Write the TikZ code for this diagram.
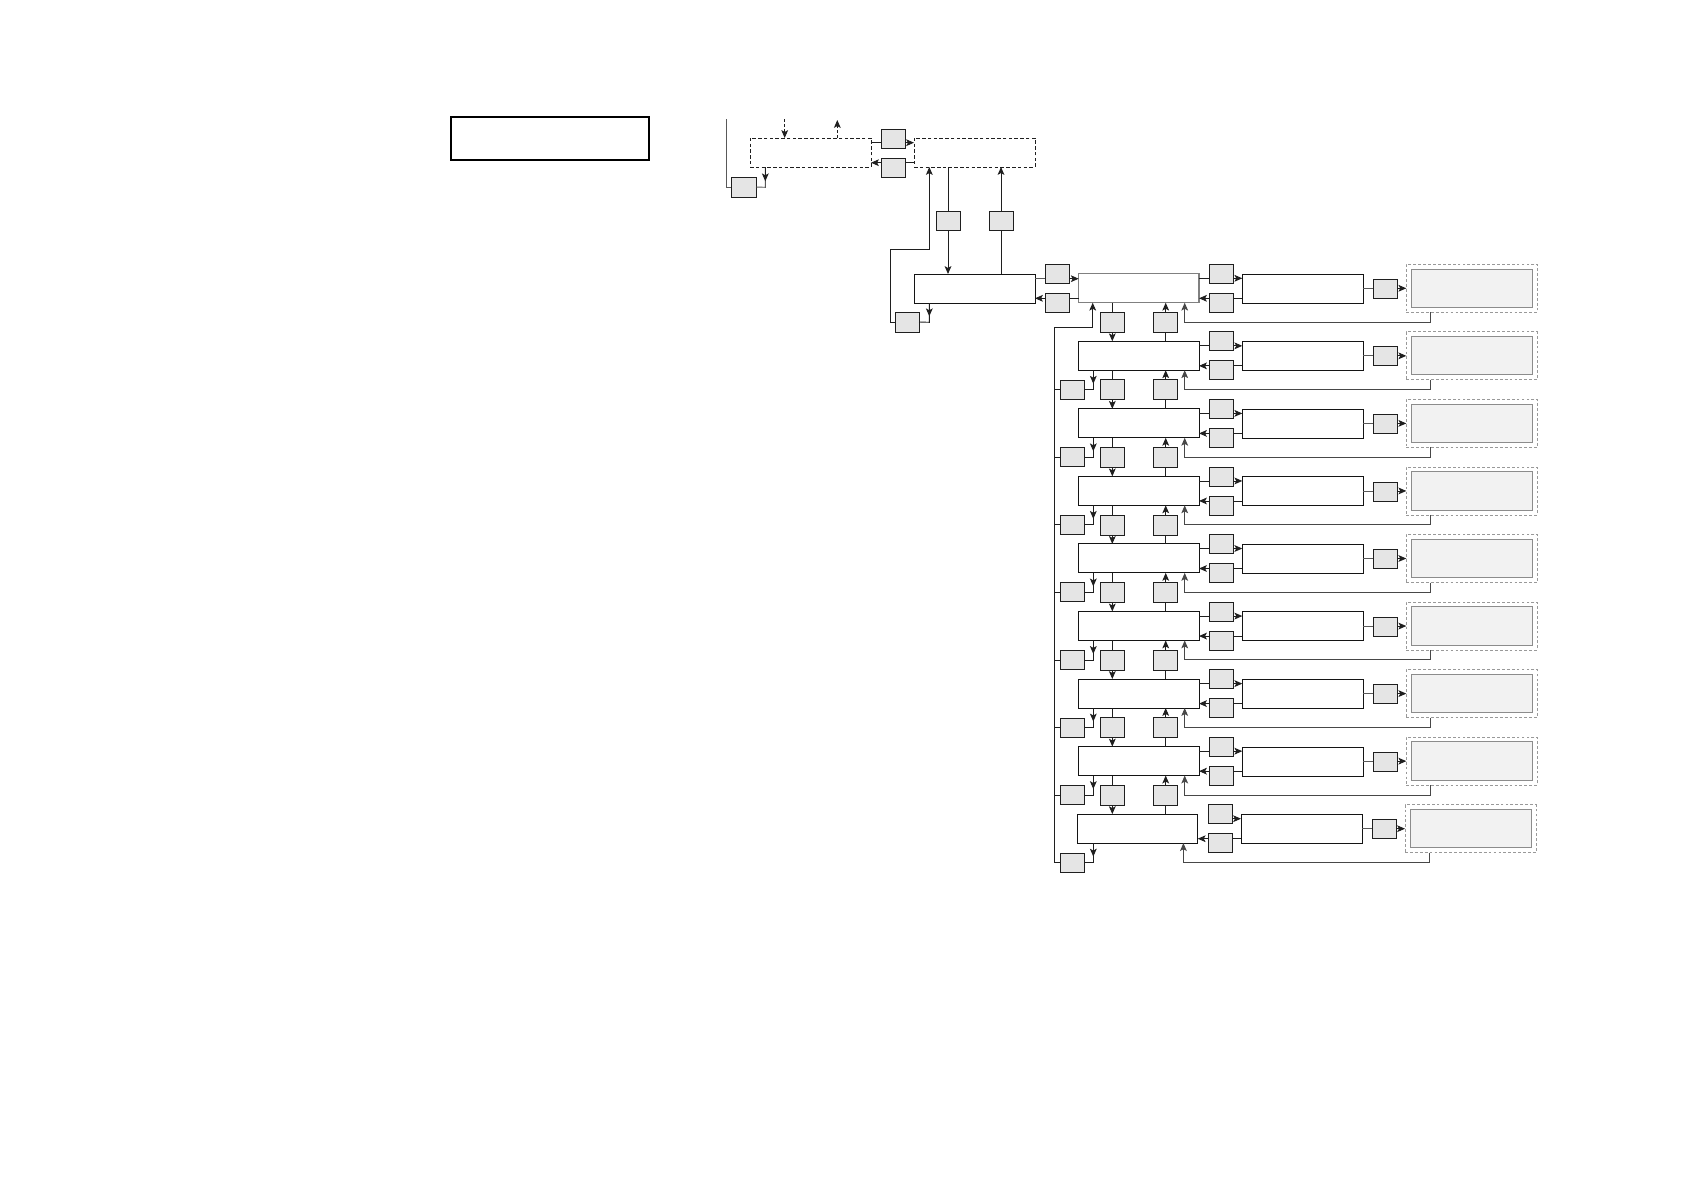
\documentclass[tikz,border=0pt]{standalone}
\usetikzlibrary{arrows.meta,calc}
\tikzset{
 ln/.style={line width=0.65pt, draw=black!88},
 gl/.style={line width=0.65pt, draw=black!65},
 arr/.style={line width=0.65pt, draw=black!88, -{Stealth[length=5.6pt,width=4.8pt,inset=1.3pt]}},
 garr/.style={line width=0.65pt, draw=black!72, -{Stealth[length=5.6pt,width=4.8pt,inset=1.3pt]}},
 sbox/.style={draw=black!88, line width=0.65pt, fill=black!10, inner sep=0pt, outer sep=0pt},
 mbox/.style={draw=black!92, line width=0.7pt, fill=white, inner sep=0pt, outer sep=0pt},
 gbox/.style={draw=black!50, line width=0.9pt, fill=white, inner sep=0pt, outer sep=0pt},
 dbox/.style={draw=black!88, dash pattern=on 2.5pt off 1.6pt, line width=0.65pt, inner sep=0pt, outer sep=0pt},
 ubox/.style={draw=black!40, dash pattern=on 2pt off 1.5pt, line width=0.6pt, inner sep=0pt, outer sep=0pt},
 vbox/.style={draw=black!45, fill=black!5, line width=0.65pt, inner sep=0pt, outer sep=0pt},
 tbox/.style={draw=black, line width=1.2pt, inner sep=0pt, outer sep=0pt},
}
\newcommand{\bx}[6]{\node[#6, minimum width={((#4)-(#2))*0.25mm}, minimum height={((#5)-(#3))*0.25mm}] (#1) at ({((#2)+(#4))/2},{((#3)+(#5))/2}) {};}
\begin{document}
\begin{tikzpicture}[x=0.25mm,y=-0.25mm]
\fill[white] (0,0) rectangle (1684,1190);
\useasboundingbox (0,0) rectangle (1684,1190);

% title box
\bx{title}{451}{117}{649}{160}{tbox}

% top region
\bx{A}{731}{177}{756}{197}{sbox}
\bx{D1}{750}{138}{871}{167}{dbox}
\bx{D2}{914}{138}{1035}{167}{dbox}
\bx{B1}{881}{129}{905}{148}{sbox}
\bx{B2}{881}{158}{905}{177}{sbox}
\coordinate (tl) at (726.7,119);
\draw[gl] (tl) |- (A.west);
\coordinate (a1) at (765.3,187.3);
\draw[gl] (D1.south -| a1) -- (a1) -- (A.east);
\draw[arr] (D1.south -| a1) -- ($(a1)+(0,-6)$);
\coordinate (dd) at (784.7,119);
\draw[arr, dash pattern=on 2pt off 1.5pt] (dd) -- (dd |- D1.north);
\coordinate (du) at (837.3,120);
\draw[arr, dash pattern=on 2pt off 1.5pt] (du |- D1.north) -- (du);
\coordinate (yb1) at (0,142.7);
\coordinate (yb2) at (0,162.7);
\draw[ln] (D1.east |- yb1) -- (B1.west |- yb1);
\draw[arr] (B1.east |- yb1) -- (D2.west |- yb1);
\draw[ln] (D2.west |- yb2) -- (B2.east |- yb2);
\draw[arr] (B2.west |- yb2) -- (D1.east |- yb2);

% middle
\bx{C1}{936}{211}{960}{230}{sbox}
\bx{C2}{989}{211}{1013}{230}{sbox}
\bx{M}{914}{274}{1035}{303}{mbox}
\bx{E}{895}{312}{919}{332}{sbox}
\bx{F1}{1045}{264.3}{1069}{283.3}{sbox}
\bx{F2}{1045}{293.3}{1069}{312.3}{sbox}
\draw[ln] (D2.south -| C1) -- (C1.north);
\draw[arr] (C1.south) -- (M.north -| C1);
\draw[ln] (M.north -| C2) -- (C2.south);
\draw[arr] (C2.north) -- (D2.south -| C2);
\coordinate (e1) at (890.3,249);
\coordinate (e2) at (929.3,249);
\draw[arr] (E.west) -| (e1) -- (e2) -- (e2 |- D2.south);
\coordinate (e3) at (929.3,322.3);
\draw[ln] (M.south -| e3) -- (e3) -- (E.east);
\draw[arr] (M.south -| e3) -- ($(e3)+(0,-6)$);

% rows
\foreach \r in {1,...,9}{
 \pgfmathsetmacro\t{273.7+(\r-1)*67.55}
 \pgfmathsetmacro\d{(\r==9)?-1.3:0}
 \ifnum\r=1
   \bx{R\r}{1078.7+\d}{\t}{1199+\d}{\t+29}{gbox}
 \else
   \bx{R\r}{1078.7+\d}{\t}{1199+\d}{\t+29}{mbox}
 \fi
 \bx{Ga\r}{1209.3+\d}{\t-9.4}{1233.3+\d}{\t+9.6}{sbox}
 \bx{Gb\r}{1209.3+\d}{\t+19.6}{1233.3+\d}{\t+38.6}{sbox}
 \bx{S\r}{1242.3+\d}{\t+0.5}{1363.3+\d}{\t+29.5}{mbox}
 \bx{T\r}{1373.3+\d}{\t+5.6}{1397.3+\d}{\t+24.6}{sbox}
 \bx{U\r}{1406.3+\d}{\t-9.4}{1537.3+\d}{\t+38.6}{ubox}
 \bx{V\r}{1411.3+\d}{\t-4.7}{1532.7+\d}{\t+33.6}{vbox}
 \coordinate (ya) at (0,\t+4.6);
 \coordinate (yb) at (0,\t+24.6);
 \coordinate (yt) at (0,\t+14.6);
 \ifnum\r<9
   \draw[ln] (R\r.east |- ya) -- (Ga\r.west |- ya);
   \bx{Ha\r}{1100.3}{\t+38.6}{1124.3}{\t+58.6}{sbox}
   \bx{Hb\r}{1153.7}{\t+38.6}{1177.7}{\t+58.6}{sbox}
 \fi
 \draw[arr] (Ga\r.east |- ya) -- (S\r.west |- ya);
 \draw[ln] (S\r.west |- yb) -- (Gb\r.east |- yb);
 \draw[arr] (Gb\r.west |- yb) -- (R\r.east |- yb);
 \draw[gl] (S\r.east |- yt) -- (T\r.west |- yt);
 \draw[arr] (T\r.east |- yt) -- (U\r.west |- yt);
 \coordinate (ux) at (1430.7+\d,\t+48.4);
 \coordinate (rx) at (1184.7+\d,\t+48.4);
 \draw[garr] (U\r.south -| ux) -- (ux) -- (rx) -- (R\r.south -| rx);
 \ifnum\r>1
   \pgfmathtruncatemacro\p{\r-1}
   \draw[ln] (R\p.south -| Ha\p) -- (Ha\p.north);
   \draw[arr] (Ha\p.south) -- (R\r.north -| Ha\p);
   \draw[ln] (R\r.north -| Hb\p) -- (Hb\p.south);
   \draw[arr] (Hb\p.north) -- (R\p.south -| Hb\p);
   \bx{K\r}{1060.3}{\t+39}{1084.3}{\t+58}{sbox}
   \coordinate (kc) at (1093.3,\t+48.5);
   \draw[ln] (R\r.south -| kc) -- (kc) -- (K\r.east);
   \draw[arr] (R\r.south -| kc) -- ($(kc)+(0,-6)$);
   \draw[ln] (1054.3,\t+48.5) coordinate (kt) -- (K\r.west);
 \fi
}
% M <-> R1 via F1/F2
\coordinate (yf1) at (0,278.7);
\coordinate (yf2) at (0,298.3);
\draw[gl] (M.east |- yf1) -- (F1.west |- yf1);
\draw[arr] (F1.east |- yf1) -- (R1.west |- yf1);
\draw[ln] (R1.west |- yf2) -- (F2.east |- yf2);
\draw[arr] (F2.west |- yf2) -- (M.east |- yf2);
% trunk
\coordinate (trunkTop) at (1054.3,327.3);
\coordinate (trunkBot) at (1054.3,862.8);
\coordinate (k1) at (1092.7,327.3);
\draw[ln] (trunkTop) -- (trunkBot);
\draw[arr] (trunkTop) -- (k1) -- (R1.south -| k1);
\end{tikzpicture}
\end{document}
